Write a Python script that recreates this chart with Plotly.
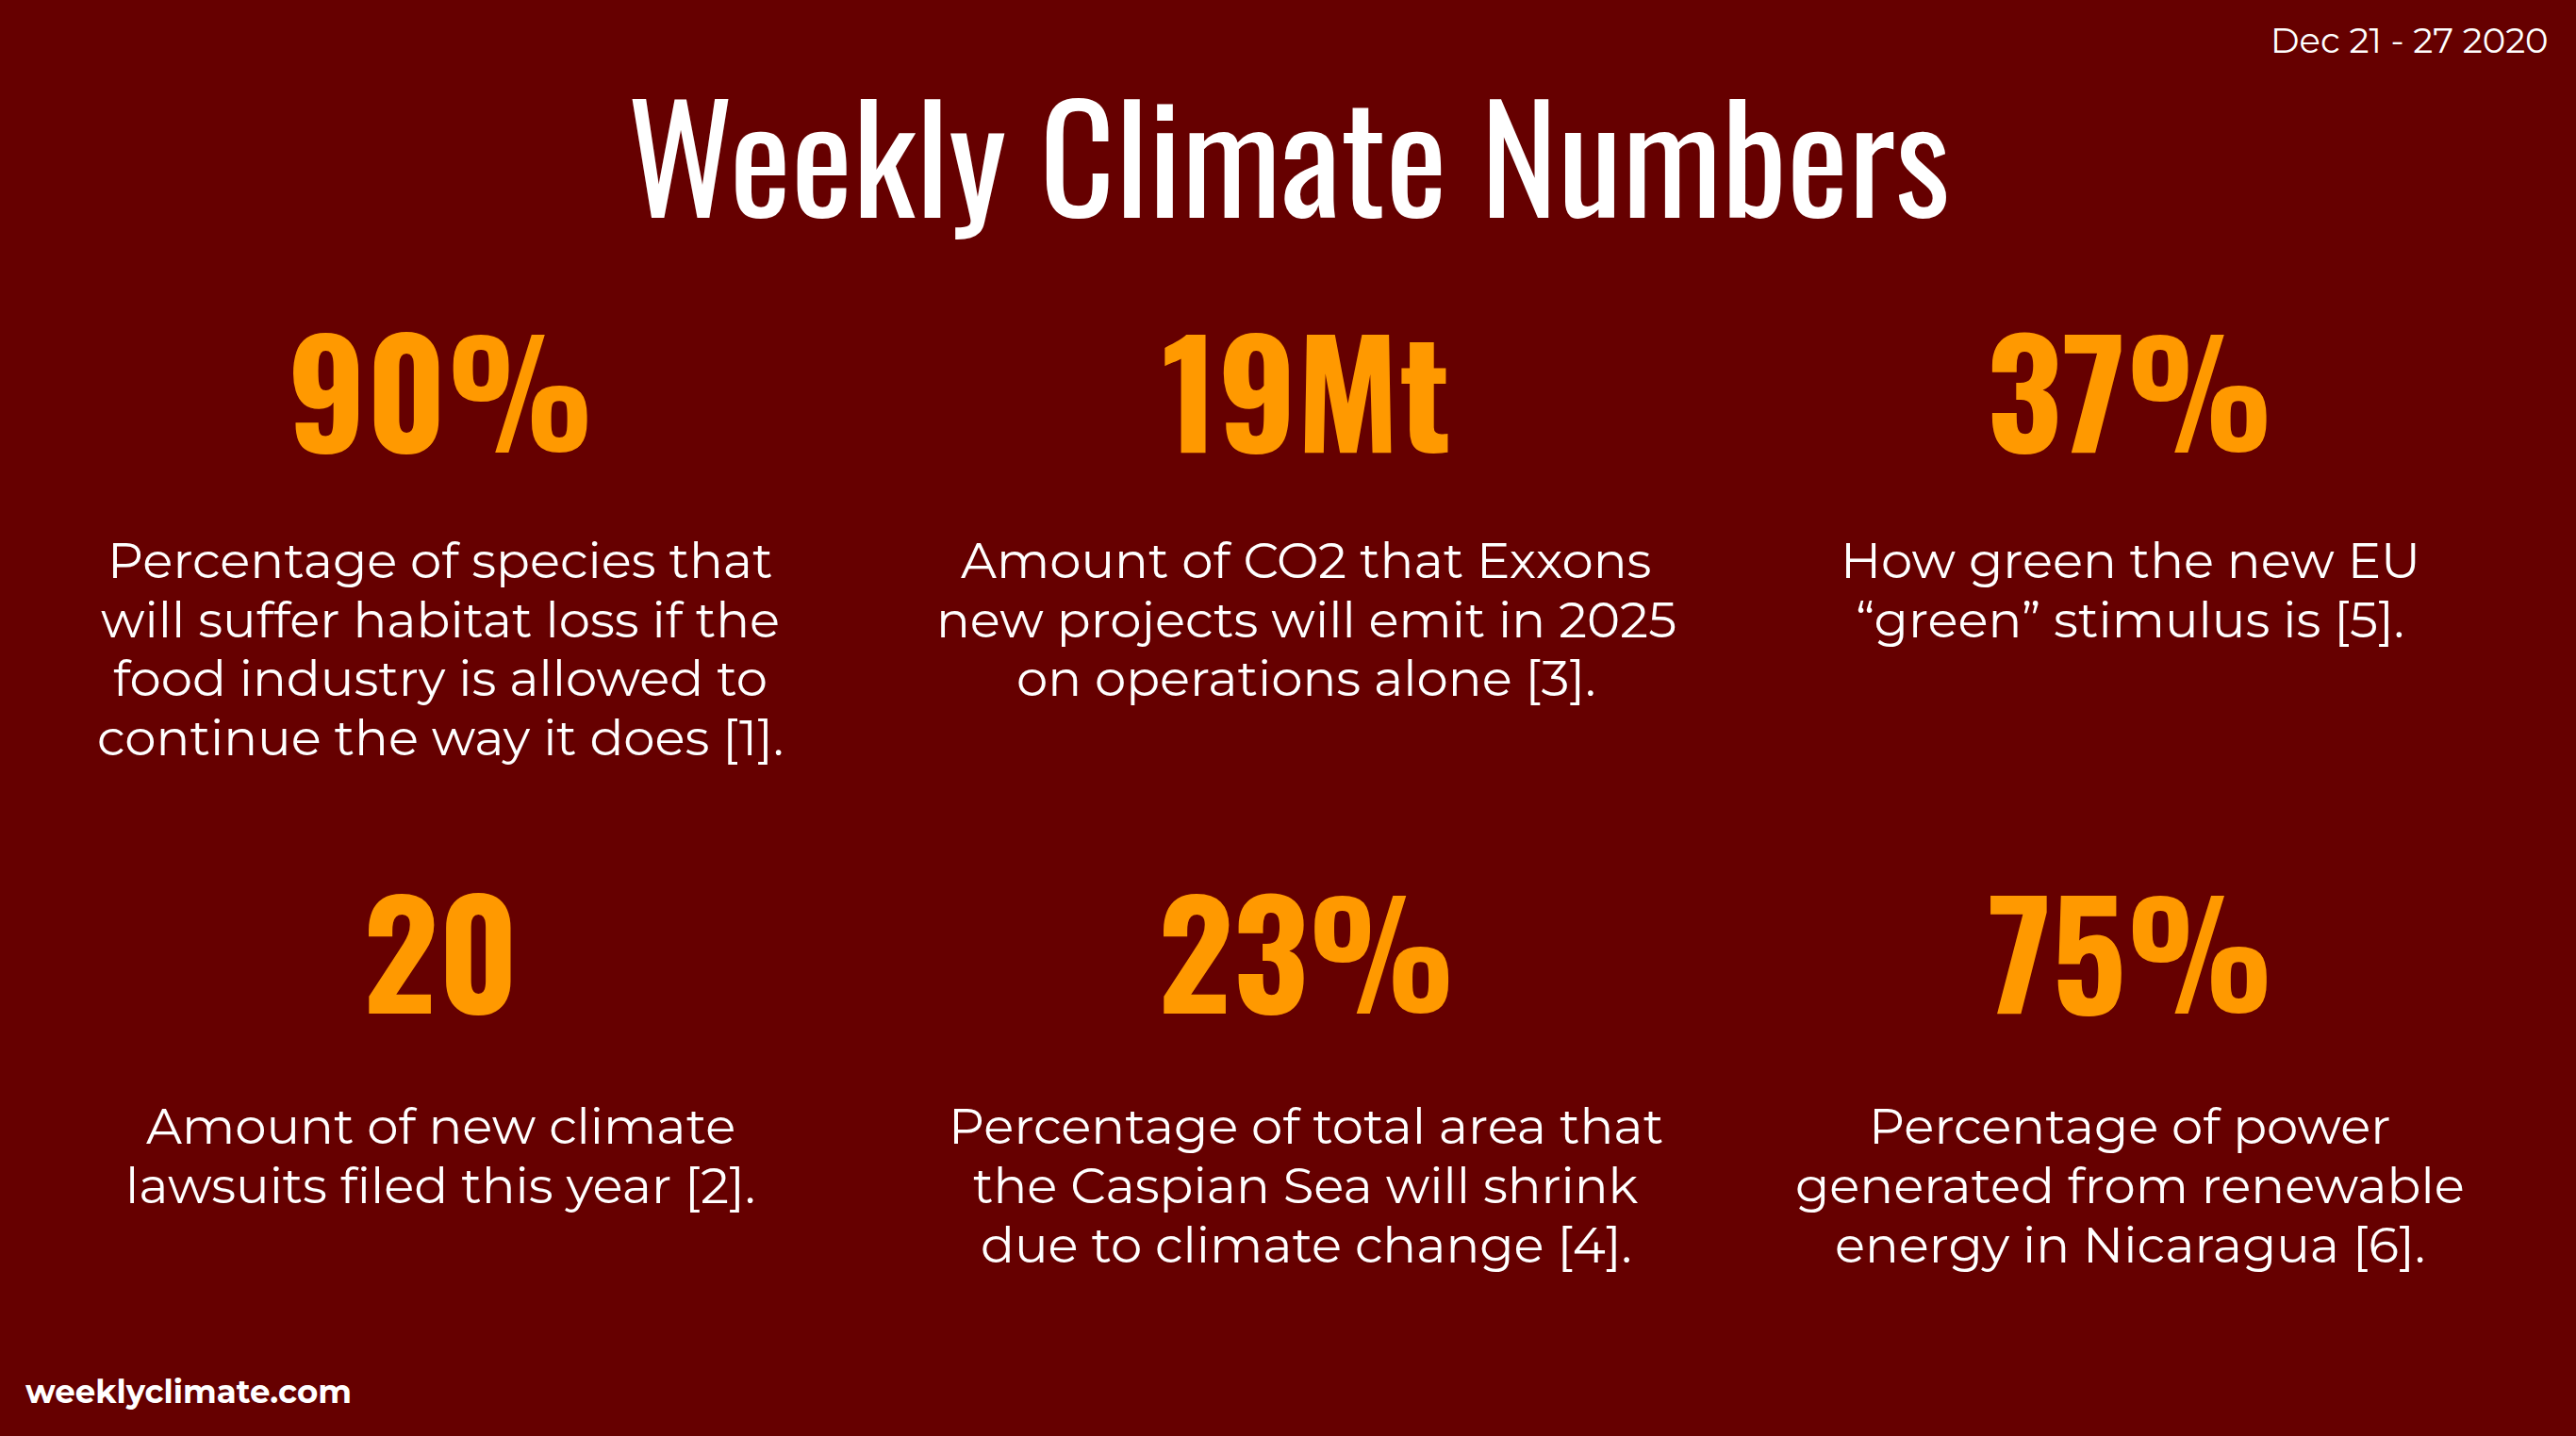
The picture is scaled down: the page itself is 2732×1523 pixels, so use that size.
import plotly.graph_objects as go

# Stats shown on the card
numbers = ["90%", "19Mt", "37%", "20", "23%", "75%"]
captions = [
    ["Percentage of species that", "will suffer habitat loss if the",
     "food industry is allowed to", "continue the way it does [1]."],
    ["Amount of CO2 that Exxons", "new projects will emit in 2025", "on operations alone [3]."],
    ["How green the new EU", "\u201cgreen\u201d stimulus is [5]."],
    ["Amount of new climate", "lawsuits filed this year [2]."],
    ["Percentage of total area that", "the Caspian Sea will shrink", "due to climate change [4]."],
    ["Percentage of power", "generated from renewable", "energy in Nicaragua [6]."],
]
col_x = [0.171, 0.507, 0.827]
num_y = [0.731, 0.340]
cap_y = [0.610, 0.216]
line_step = 0.0412

BG = "#660000"
ORANGE = "#FF9900"
cond = "Oswald, DejaVu Sans Condensed, sans-serif"
body = "Montserrat, Open Sans, sans-serif"

ann = []
for i, (n, lines) in enumerate(zip(numbers, captions)):
    r, k = divmod(i, 3)
    ann.append(dict(x=col_x[k], y=num_y[r], text="<b>" + n + "</b>", showarrow=False,
                    xref="paper", yref="paper", xanchor="center", yanchor="middle",
                    font=dict(family=cond, size=155, color=ORANGE)))
    for j, line in enumerate(lines):
        ann.append(dict(x=col_x[k], y=cap_y[r] - j * line_step, text=line, showarrow=False,
                        xref="paper", yref="paper", xanchor="center", yanchor="middle",
                        font=dict(family=body, size=53, color="white")))

ann.append(dict(x=0.5, y=0.894, text="Weekly Climate Numbers", showarrow=False,
                xref="paper", yref="paper", xanchor="center", yanchor="middle",
                font=dict(family=cond, size=155, color="white")))
ann.append(dict(x=0.99, y=0.972, text="Dec 21 - 27 2020", showarrow=False,
                xref="paper", yref="paper", xanchor="right", yanchor="middle",
                font=dict(family=body, size=37, color="white")))
ann.append(dict(x=0.009, y=0.031, text="<b>weeklyclimate.com</b>", showarrow=False,
                xref="paper", yref="paper", xanchor="left", yanchor="middle",
                font=dict(family=body, size=34, color="white")))

fig = go.Figure()
fig.update_layout(width=2732, height=1523, paper_bgcolor=BG, plot_bgcolor=BG,
                  margin=dict(l=0, r=0, t=0, b=0), annotations=ann,
                  xaxis=dict(visible=False), yaxis=dict(visible=False))
fig.write_html("out.html", config={"displayModeBar": False},
               post_script="document.body.style.margin='0';document.body.style.background='#660000';")
